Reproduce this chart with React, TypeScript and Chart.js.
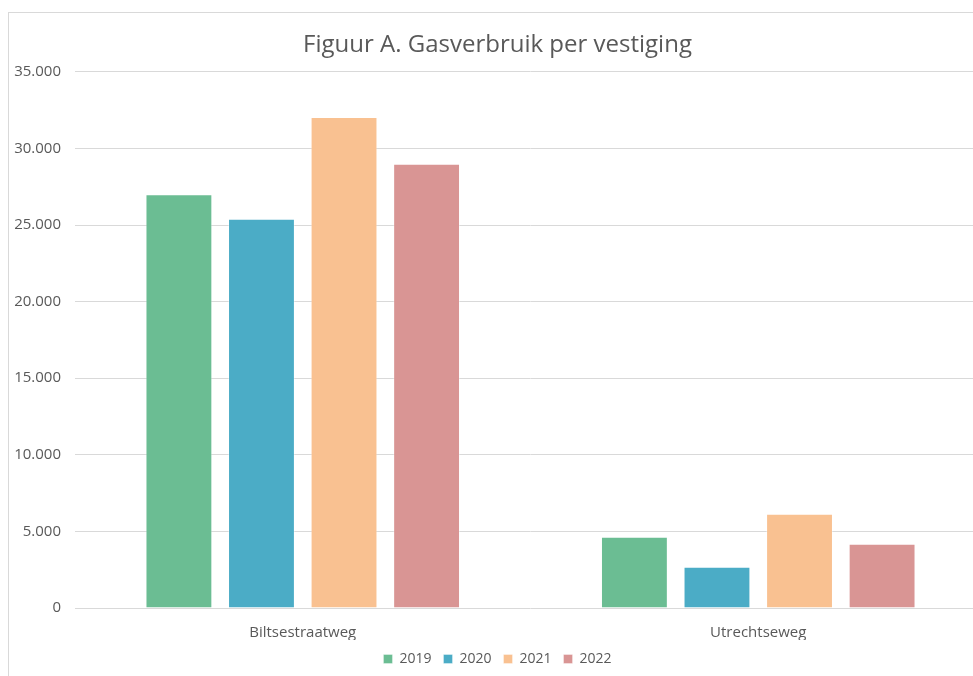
import React, { useEffect, useRef } from "react";
import { Chart, registerables } from "chart.js";

Chart.register(...registerables);

const categories = ["Biltsestraatweg", "Utrechtseweg"];
const years = ["2019", "2020", "2021", "2022"];
const values2019 = [27000, 4650];
const values2020 = [25400, 2700];
const values2021 = [32050, 6150];
const values2022 = [29000, 4200];
const colors = ["#6bbd93", "#4bacc6", "#f9c191", "#d99594"];
const yTicks = [0, 5000, 10000, 15000, 20000, 25000, 30000, 35000];
const titleText = "Figuur A. Gasverbruik per vestiging";

const fmt = (v: number) => v.toString().replace(/\B(?=(\d{3})+(?!\d))/g, ".");

export default function App() {
  const ref = useRef<HTMLCanvasElement | null>(null);
  useEffect(() => {
    document.body.style.overflow = "hidden";
    if (!ref.current) return;
    const series = [values2019, values2020, values2021, values2022];
    const chart = new Chart(ref.current, {
      type: "bar",
      data: {
        labels: categories,
        datasets: years.map((y, i) => ({
          label: y,
          data: series[i],
          backgroundColor: colors[i],
          borderColor: "rgba(255,255,255,0.35)",
          borderWidth: 1,
          categoryPercentage: 0.725,
          barPercentage: 0.81,
        })),
      },
      options: {
        animation: false,
        responsive: false,
        maintainAspectRatio: false,
        layout: { padding: { left: 0, right: 0, top: 0, bottom: 0 } },
        plugins: {
          title: {
            display: true,
            text: titleText,
            color: "#595959",
            font: { family: "'Open Sans'", size: 24, weight: "normal" },
            padding: { top: 18, bottom: 12 },
          },
          legend: {
            position: "bottom",
            labels: {
              color: "#595959",
              font: { family: "'Open Sans'", size: 14 },
              boxWidth: 9,
              boxHeight: 9,
              padding: 12,
            },
          },
          tooltip: { enabled: false },
        },
        scales: {
          x: {
            grid: { display: false },
            border: { display: false },
            ticks: {
              color: "#595959",
              font: { family: "'Open Sans'", size: 15 },
              padding: 8,
            },
            afterFit: (s: any) => {
              s.height = 32;
            },
          },
          y: {
            min: 0,
            max: 35000,
            afterBuildTicks: (s: any) => {
              s.ticks = yTicks.map((v) => ({ value: v }));
            },
            grid: { color: "#d9d9d9", lineWidth: 1, drawTicks: false },
            border: { display: false },
            ticks: {
              color: "#595959",
              font: { family: "'Open Sans'", size: 15 },
              padding: 14,
              callback: (v: any) => fmt(Number(v)),
            },
            afterFit: (s: any) => {
              s.width = 66;
            },
          },
        },
      },
    });
    return () => chart.destroy();
  }, []);
  return (
    <div
      style={{
        position: "fixed",
        left: 8,
        top: 12,
        width: 978,
        height: 700,
        borderLeft: "1px solid #d9d9d9",
        borderTop: "1px solid #d9d9d9",
        boxSizing: "border-box",
        background: "#ffffff",
      }}
    >
      <canvas ref={ref} width={977} height={663} style={{ display: "block" }} />
    </div>
  );
}
